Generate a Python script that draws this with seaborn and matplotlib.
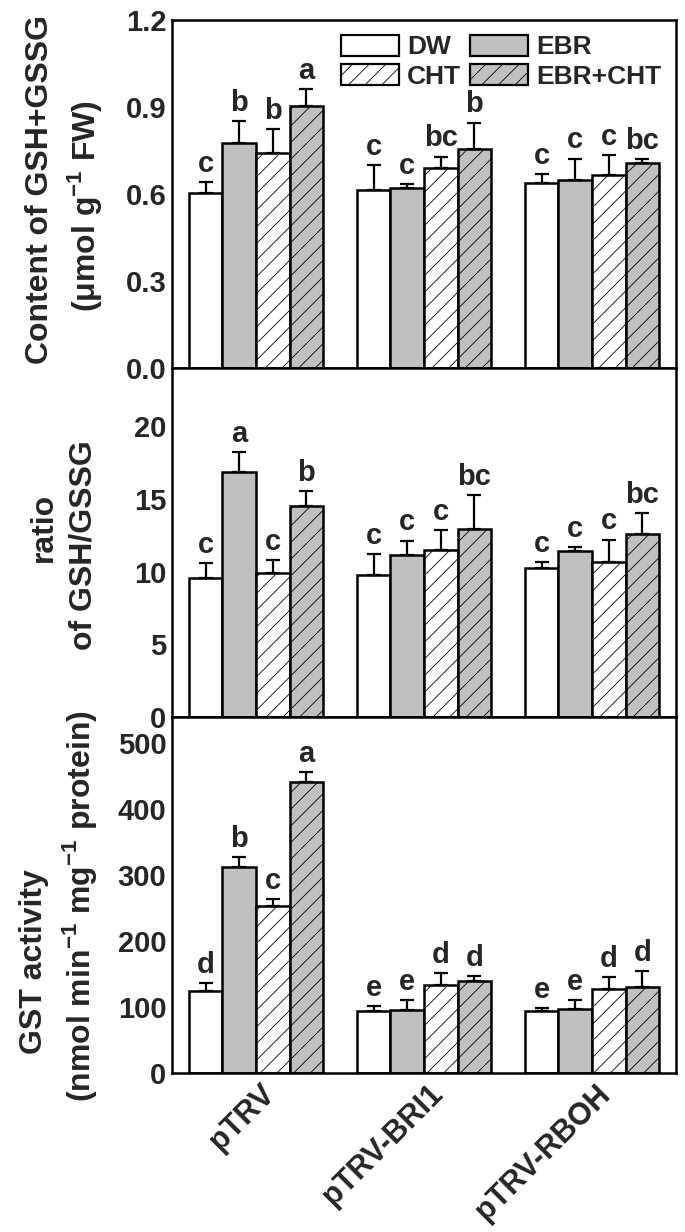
import matplotlib
matplotlib.use("Agg")
import matplotlib.pyplot as plt
import matplotlib.transforms as mtransforms
from matplotlib.patches import Patch
import pandas as pd
import seaborn as sns

groups = ["pTRV", "pTRV-BRI1", "pTRV-RBOH"]
treatments = ["DW", "EBR", "CHT", "EBR+CHT"]

# rows = groups, columns = treatments
total_mean = [[0.603, 0.777, 0.742, 0.902],
              [0.613, 0.621, 0.689, 0.755],
              [0.639, 0.650, 0.667, 0.706]]
total_err = [[0.037, 0.074, 0.083, 0.059],
             [0.087, 0.013, 0.040, 0.091],
             [0.029, 0.072, 0.068, 0.013]]
total_letters = [["c", "b", "b", "a"],
                 ["c", "c", "bc", "b"],
                 ["c", "c", "c", "bc"]]

ratio_mean = [[9.58, 16.88, 9.87, 14.48],
              [9.74, 11.15, 11.47, 12.93],
              [10.26, 11.40, 10.65, 12.59]]
ratio_err = [[1.02, 1.32, 0.91, 1.05],
             [1.48, 0.98, 1.41, 2.35],
             [0.39, 0.27, 1.55, 1.41]]
ratio_letters = [["c", "a", "c", "b"],
                 ["c", "c", "c", "bc"],
                 ["c", "c", "c", "bc"]]

gst_mean = [[124, 313, 253, 441],
            [94, 95, 133, 140],
            [94, 97, 127, 130]]
gst_err = [[12, 15, 11, 16],
           [7, 16, 18, 7],
           [5, 14, 19, 25]]
gst_letters = [["d", "b", "c", "a"],
               ["e", "e", "d", "d"],
               ["e", "e", "d", "d"]]

sns.set_style("white")
plt.rcParams["font.family"] = ["Liberation Sans", "DejaVu Sans"]
plt.rcParams["font.weight"] = "bold"
plt.rcParams["mathtext.fontset"] = "custom"
plt.rcParams["mathtext.rm"] = "Liberation Sans:bold"
plt.rcParams["mathtext.bf"] = "Liberation Sans:bold"
plt.rcParams["hatch.linewidth"] = 0.6

faces = {"DW": "white", "EBR": "#c0c0c0", "CHT": "white", "EBR+CHT": "#c0c0c0"}
hatches = {"DW": "", "EBR": "", "CHT": "//", "EBR+CHT": "//"}

W, H = 685, 1232
fig = plt.figure(figsize=(W / 100, H / 100), dpi=100)


def px_axes(top, bottom, left=172, right=676):
    return fig.add_axes([left / W, 1 - bottom / H, (right - left) / W, (bottom - top) / H])


def panel(ax, means, errs, letters, ymax, yticks, fmt):
    df = pd.DataFrame(
        [(g, t, means[i][j]) for i, g in enumerate(groups) for j, t in enumerate(treatments)],
        columns=["group", "treatment", "value"],
    )
    sns.barplot(data=df, x="group", y="value", hue="treatment", order=groups,
                hue_order=treatments, palette=faces, errorbar=None, edgecolor="black",
                linewidth=1.8, saturation=1, legend=False, ax=ax)
    bar_conts = list(ax.containers)
    for j, cont in enumerate(bar_conts):
        t = treatments[j]
        for i, bar in enumerate(cont):
            bar.set_hatch(hatches[t])
            bar.set_facecolor(faces[t])
            bar.set_edgecolor("black")
            x = bar.get_x() + bar.get_width() / 2
            h = bar.get_height()
            e = errs[i][j]
            ax.errorbar(x, h, yerr=[[0], [e]], fmt="none", ecolor="black",
                        elinewidth=1.6, capsize=5, capthick=1.6, zorder=1)
            ax.annotate(letters[i][j], (x, h + e), xytext=(0, 3), textcoords="offset points",
                        ha="center", va="bottom", fontsize=21, fontweight="bold")
    ax.set_xlim(-0.5, 2.5)
    ax.set_ylim(0, ymax)
    ax.set_yticks(yticks)
    ax.set_yticklabels([fmt.format(v) for v in yticks], fontsize=21, fontweight="bold")
    ax.tick_params(axis="y", direction="in", length=6, width=1.6, pad=4)
    ax.tick_params(axis="x", length=0)
    ax.set_xlabel("")
    ax.set_ylabel("")
    for s in ax.spines.values():
        s.set_visible(True)
        s.set_linewidth(1.8)
        s.set_color("black")


ax1 = px_axes(20, 368)
ax2 = px_axes(368, 717)
ax3 = px_axes(717, 1073)

panel(ax1, total_mean, total_err, total_letters, 1.2, [0.0, 0.3, 0.6, 0.9, 1.2], "{:.1f}")
panel(ax2, ratio_mean, ratio_err, ratio_letters, 24, [0, 5, 10, 15, 20], "{:d}")
panel(ax3, gst_mean, gst_err, gst_letters, 540, [0, 100, 200, 300, 400, 500], "{:d}")

for ax in (ax1, ax2):
    ax.set_xticklabels([])

offset = mtransforms.ScaledTranslation(0.14, 0.0, fig.dpi_scale_trans)
ax3.set_xticks(range(len(groups)))
ax3.set_xticklabels(groups, rotation=45, ha="right", va="center", rotation_mode="anchor",
                    fontsize=22, fontweight="bold")
ax3.tick_params(axis="x", pad=12)
for lab in ax3.get_xticklabels():
    lab.set_transform(lab.get_transform() + offset)

handles = [Patch(facecolor=faces[t], edgecolor="black", hatch=hatches[t], linewidth=1.6, label=t)
           for t in ["DW", "CHT", "EBR", "EBR+CHT"]]
ax1.legend(handles=handles, ncol=2, loc="upper right", frameon=False,
           prop={"size": 19, "weight": "bold"}, handlelength=2.2, handleheight=0.85,
           columnspacing=0.35, handletextpad=0.3, labelspacing=0.2, borderaxespad=0.15)


def ylab(px, py, s):
    fig.text(px / W, 1 - py / H, s, rotation=90, ha="center", va="center",
             fontsize=23, fontweight="bold")


ylab(40, 190, "Content of GSH+GSSG")
ylab(84, 206, r"(μmol g$^{-1}$ FW)")
ylab(44, 527, "ratio")
ylab(84, 545, "of GSH/GSSG")
ylab(34, 962, "GST activity")
ylab(80, 906, r"(nmol min$^{-1}$ mg$^{-1}$ protein)")

plt.savefig("out.png", dpi=100)
